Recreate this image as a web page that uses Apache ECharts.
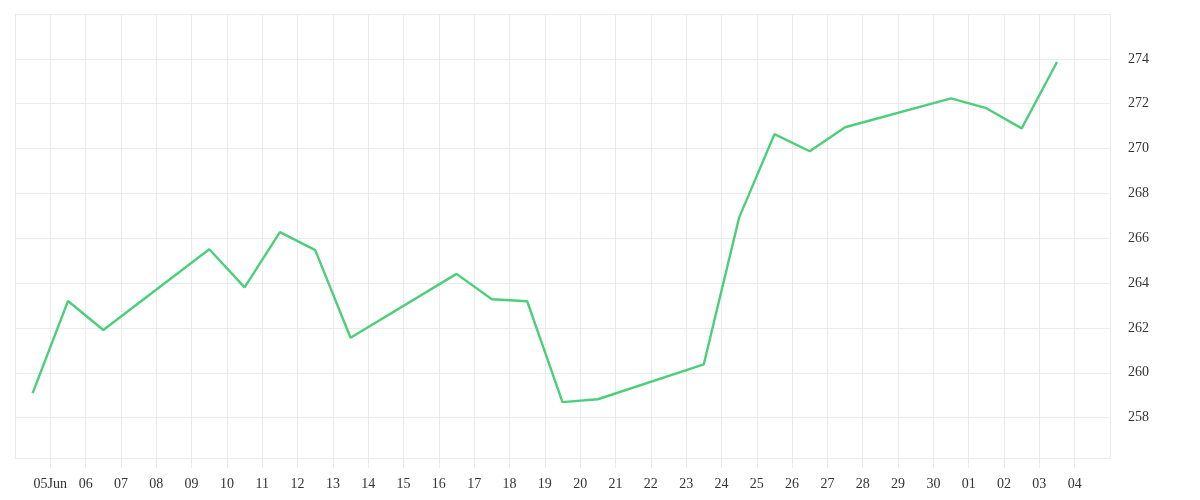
<!DOCTYPE html>
<html>
<head>
<meta charset="utf-8">
<title>Price</title>
<script src="https://cdn.jsdelivr.net/npm/echarts@6/dist/echarts.min.js"></script>
<style>
  html, body { margin: 0; padding: 0; background: #fff; }
  #chart { width: 1200px; height: 500px; }
</style>
</head>
<body>
<div id="chart"></div>
<script>
// daily closes (trading days only)
const dates = [
  "2025-06-04", "2025-06-05", "2025-06-06",
  "2025-06-09", "2025-06-10", "2025-06-11", "2025-06-12", "2025-06-13",
  "2025-06-16", "2025-06-17", "2025-06-18", "2025-06-19", "2025-06-20",
  "2025-06-23", "2025-06-24", "2025-06-25", "2025-06-26", "2025-06-27",
  "2025-06-30", "2025-07-01", "2025-07-02", "2025-07-03"
];
const values = [
  259.09, 263.20, 261.91,
  265.51, 263.81, 266.27, 265.47, 261.56,
  264.41, 263.28, 263.19, 258.69, 258.82,
  260.38, 266.92, 270.64, 269.88, 270.95,
  272.24, 271.80, 270.90, 273.86
];

// axis window: 04 Jun .. 05 Jul, one tick per day
const startDate = "2025-06-04";
const dayCount = 31;
const yMin = 256.2;
const yMax = 276;

const DAY = 86400000;
const t0 = Date.parse(startDate + "T00:00:00Z");

function dayOffset(s) {
  return (Date.parse(s + "T00:00:00Z") - t0) / DAY;
}

function dayLabel(v) {
  const d = new Date(t0 + Math.round(v) * DAY);
  const dd = String(d.getUTCDate()).padStart(2, "0");
  if (d.getUTCMonth() === 5 && d.getUTCDate() === 5) return dd + "Jun";
  return dd;
}

// points sit in the middle of their day
const seriesData = dates.map(function(s, i) {
  return [dayOffset(s) + 0.5, values[i]];
});

const gridColor = "#ebebeb";
const textStyle = {
  color: "#333333",
  fontFamily: "Liberation Serif, serif",
  fontSize: 14
};

const option = {
  animation: false,
  backgroundColor: "#ffffff",
  grid: {
    left: 15,
    right: 90,
    top: 14,
    bottom: 42
  },
  xAxis: {
    type: "value",
    min: 0,
    max: dayCount,
    interval: 1,
    axisLine: {
      show: true,
      lineStyle: { color: gridColor, width: 1 }
    },
    axisTick: {
      show: true,
      length: 10,
      lineStyle: { color: gridColor }
    },
    splitLine: {
      show: true,
      lineStyle: { color: gridColor, width: 1 }
    },
    axisLabel: Object.assign({}, textStyle, {
      margin: 19,
      showMinLabel: false,
      showMaxLabel: false,
      formatter: dayLabel
    })
  },
  yAxis: {
    type: "value",
    position: "right",
    min: yMin,
    max: yMax,
    splitNumber: 10,
    scale: true,
    axisLine: { show: false },
    axisTick: { show: false },
    splitLine: {
      show: true,
      lineStyle: { color: gridColor, width: 1 }
    },
    axisLabel: Object.assign({}, textStyle, {
      margin: 18,
      padding: [6, 0, 0, 0],
      showMinLabel: false,
      showMaxLabel: false
    })
  },
  series: [
    {
      type: "line",
      data: seriesData,
      showSymbol: false,
      symbol: "none",
      lineStyle: {
        color: "#4ccf7a",
        width: 2.4
      }
    }
  ]
};

const chart = echarts.init(document.getElementById("chart"));
chart.setOption(option);
</script>
</body>
</html>
